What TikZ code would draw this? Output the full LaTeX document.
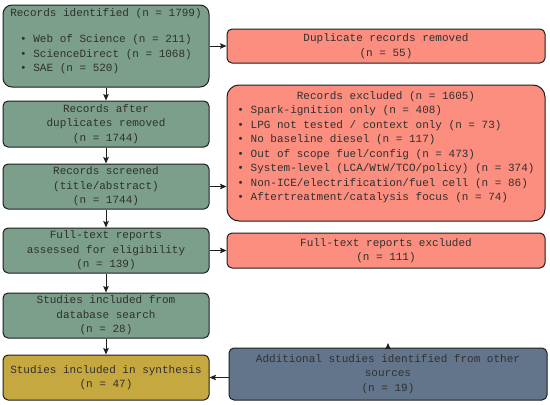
\documentclass[tikz,border=0pt]{standalone}
\usepackage{fontspec}
\setmonofont{Liberation Mono}
\usetikzlibrary{arrows.meta}
\definecolor{boxgreen}{RGB}{123,159,138}
\definecolor{boxred}{RGB}{251,142,127}
\definecolor{boxgold}{RGB}{197,168,63}
\definecolor{boxblue}{RGB}{99,117,139}
\definecolor{txt}{RGB}{48,48,48}
\definecolor{edge}{RGB}{30,30,30}
\begin{document}
\begin{tikzpicture}[x=1pt,y=-1pt,
  box/.style={draw=edge, line width=1pt, rounded corners=5pt, inner sep=0pt,
    text=txt, align=center, font=\ttfamily\fontsize{11}{14.5}\selectfont},
  green/.style={box, fill=boxgreen, minimum width=206pt, minimum height=45pt},
  red/.style={box, fill=boxred, minimum width=318pt},
  arr/.style={-{Stealth[length=6.5pt,width=5.5pt,inset=1.2pt]}, line width=0.9pt, draw=edge}]
\useasboundingbox[fill=white] (0,0) rectangle (550,405);

\node[green, minimum height=82pt, rounded corners=9pt] (ident) at (106,46)
  {Records identified (n = 1799)\\[11.5pt]
   \begin{tabular}[t]{@{}l@{}}• Web of Science (n = 211)\\• ScienceDirect (n = 1068)\\• SAE (n = 520)\rule[-11.5pt]{0pt}{11.5pt}\end{tabular}};
\node[red, minimum height=34pt] (dup) at (386,46) {Duplicate records removed\\(n = 55)};

\node[green, minimum height=46pt] (after) at (106,124) {Records after\\duplicates removed\\(n = 1744)};
\node[red, minimum height=136pt, rounded corners=12pt] (excl) at (386,153)
  {Records excluded (n = 1605)\\
   \begin{tabular}[t]{@{}l@{}}• Spark-ignition only (n = 408)\\
   • LPG not tested / context only (n = 73)\\
   • No baseline diesel (n = 117)\\
   • Out of scope fuel/config (n = 473)\\
   • System-level (LCA/WtW/TCO/policy) (n = 374)\\
   • Non-ICE/electrification/fuel cell (n = 86)\\
   • Aftertreatment/catalysis focus (n = 74)\rule[-13.5pt]{0pt}{13.5pt}\end{tabular}};

\node[green] (screen) at (106,186.5) {Records screened\\(title/abstract)\\(n = 1744)};
\node[green] (full) at (106,250.5) {Full-text reports\\assessed for eligibility\\(n = 139)};
\node[red, minimum height=35pt] (ftex) at (386,250.5) {Full-text reports excluded\\(n = 111)};
\node[green] (db) at (106,315.5) {Studies included from\\database search\\(n = 28)};
\node[box, fill=boxgold, minimum width=206pt, minimum height=45pt] (syn) at (106,377.5) {Studies included in synthesis\\(n = 47)};
\node[box, fill=boxblue, minimum width=318pt, minimum height=52pt] (add) at (388,374) {Additional studies identified from other\\sources\\(n = 19)};

\coordinate (addtip) at ([yshift=4.5pt]add.north);

\draw[arr] (ident.south) -- (after.north);
\draw[arr] (after.south) -- (screen.north);
\draw[arr] (screen.south) -- (full.north);
\draw[arr] (full.south) -- (db.north);
\draw[arr] (db.south) -- (syn.north);
\draw[arr] (ident.east) -- (dup.west);
\draw[arr] (screen.east) -- (screen.east -| excl.west);
\draw[arr] (full.east) -- (ftex.west);
\draw[arr] (syn.east -| add.west) -- (syn.east);
\draw[arr] (add.north) -- (addtip);
\end{tikzpicture}
\end{document}
